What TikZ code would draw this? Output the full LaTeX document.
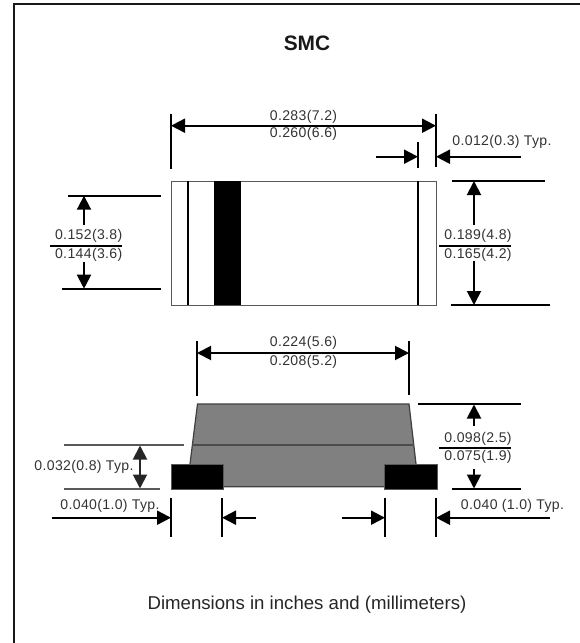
\documentclass[tikz,border=0pt]{standalone}
\usepackage{fontspec}
\setmainfont{Liberation Sans}
\newfontfamily\dimfont[LetterSpace=2.5]{Liberation Sans}
\usetikzlibrary{arrows.meta}
\tikzset{
    tip/.tip={Triangle[length=14*0.5692pt, width=14*0.5692pt]},
    dimline/.style={line width=1.1pt, black},
    thinline/.style={line width=0.6pt, black!65!white},
    dimarrow/.style={dimline, -tip},
    twoarrow/.style={dimline, tip-tip},
    dimtext/.style={inner sep=0pt, font=\dimfont\fontsize{8}{9.6}\selectfont, text=black!80},
    body/.style={draw=black!65, line width=0.7pt},
    pad/.style={fill=black, draw=black!65, line width=0.4pt},
}
\begin{document}
\begin{tikzpicture}[x=0.02cm, y=-0.02cm]
    \useasboundingbox (0,0) rectangle (580,643);
    % frame, only two sides
    \coordinate (FB) at (14,643);
    \coordinate (FC) at (14,4);
    \coordinate (FR) at (580,4);
    \draw [line width=1.4pt, black!90] (FB) -- (FC) -- (FR);

    \node [font=\bfseries\fontsize{11.9}{14}\selectfont, text=black!90] (title) at (307,43) {SMC};
    \node [font=\fontsize{10.6}{12}\selectfont, text=black!85] (foot) at (307,605) {Dimensions in inches and (millimeters)};

    % top view
    \node [body, minimum width=265*0.5692pt, minimum height=124.5*0.5692pt, inner sep=0pt, anchor=north west] (B) at (171,180.5) {};
    \node [fill=black, minimum width=27*0.5692pt, minimum height=124*0.5692pt, inner sep=0pt, anchor=north west] (band) at (214,180.7) {};
    \coordinate (L1a) at (188,180.5);
    \coordinate (L1b) at (188,305);
    \coordinate (L2a) at (418,180.5);
    \coordinate (L2b) at (418,305);
    \draw [dimline] (L1a) -- (L1b);
    \draw [dimline] (L2a) -- (L2b);

    % top view, width
    \coordinate (T1a) at (171,114);
    \coordinate (T1b) at (171,169);
    \coordinate (T2a) at (436,114);
    \coordinate (T2b) at (436,167);
    \coordinate (T3a) at (418,142);
    \coordinate (T3b) at (418,167.5);
    \coordinate (TA1) at (171,125.7);
    \coordinate (TA2) at (436,125.7);
    \coordinate (S1) at (376,156.7);
    \coordinate (S2) at (418,156.7);
    \coordinate (S3) at (521,156.7);
    \coordinate (S4) at (436,156.7);
    \draw [dimline] (T1a) -- (T1b);
    \draw [dimline] (T2a) -- (T2b);
    \draw [dimline] (T3a) -- (T3b);
    \draw [twoarrow] (TA1) -- (TA2);
    \draw [dimarrow] (S1) -- (S2);
    \draw [dimarrow] (S3) -- (S4);
    \node [dimtext] (t283) at (303.5,116.7) {0.283(7.2)};
    \node [dimtext] (t260) at (303.5,134.3) {0.260(6.6)};
    \node [dimtext] (t012) at (502,142) {0.012(0.3) Typ.};

    % top view, left height
    \coordinate (A1) at (68,195.7);
    \coordinate (A2) at (161,195.7);
    \coordinate (A3) at (62,288.7);
    \coordinate (A4) at (161,288.7);
    \coordinate (A5) at (84,224.7);
    \coordinate (A6) at (84,195.7);
    \coordinate (A7) at (84,262);
    \coordinate (A8) at (84,288.7);
    \coordinate (A9) at (50,245.7);
    \coordinate (A10) at (122,245.7);
    \draw [dimline] (A1) -- (A2);
    \draw [dimline] (A3) -- (A4);
    \draw [dimline] (A9) -- (A10);
    \draw [dimarrow] (A5) -- (A6);
    \draw [dimarrow] (A7) -- (A8);
    \node [dimtext] (t152) at (88.7,235.7) {0.152(3.8)};
    \node [dimtext] (t144) at (88.7,254.7) {0.144(3.6)};

    % top view, right height
    \coordinate (C1) at (452,180.7);
    \coordinate (C2) at (545,180.7);
    \coordinate (C3) at (451,305);
    \coordinate (C4) at (550,305);
    \coordinate (C5) at (474,224.7);
    \coordinate (C6) at (474,181);
    \coordinate (C7) at (474,261);
    \coordinate (C8) at (474,305);
    \coordinate (C9) at (439,245.7);
    \coordinate (C10) at (511,245.7);
    \draw [dimline] (C1) -- (C2);
    \draw [dimline] (C3) -- (C4);
    \draw [dimline] (C9) -- (C10);
    \draw [dimarrow] (C5) -- (C6);
    \draw [dimarrow] (C7) -- (C8);
    \node [dimtext] (t189) at (478,235.7) {0.189(4.8)};
    \node [dimtext] (t165) at (478,254.7) {0.165(4.2)};

    % side view
    \coordinate (G1) at (197.5,404);
    \coordinate (G2) at (409,404);
    \coordinate (G3) at (416,464);
    \coordinate (G4) at (416,486.7);
    \coordinate (G5) at (190,486.7);
    \coordinate (G6) at (190,464);
    \coordinate (M1) at (192,445);
    \coordinate (M2) at (414,445);
    \draw [body, draw=black!75, fill=black!50] (G1) -- (G2) -- (G3) -- (G4) -- (G5) -- (G6) -- cycle;
    \draw [line width=0.7pt, black!70] (M1) -- (M2);
    \node [pad, minimum width=52.5*0.5692pt, minimum height=25*0.5692pt, inner sep=0pt, anchor=north west] (PL) at (170.5,464) {};
    \node [pad, minimum width=52.5*0.5692pt, minimum height=25*0.5692pt, inner sep=0pt, anchor=north west] (PR) at (384,464) {};

    % side view, width
    \coordinate (D1a) at (197,341);
    \coordinate (D1b) at (197,396);
    \coordinate (D2a) at (409,341);
    \coordinate (D2b) at (409,395);
    \coordinate (DA1) at (197,353);
    \coordinate (DA2) at (409,353);
    \draw [dimline] (D1a) -- (D1b);
    \draw [dimline] (D2a) -- (D2b);
    \draw [twoarrow] (DA1) -- (DA2);
    \node [dimtext] (t224) at (303.5,342.7) {0.224(5.6)};
    \node [dimtext] (t208) at (303.5,361.7) {0.208(5.2)};

    % side view, left height
    \coordinate (E1) at (64,445);
    \coordinate (E2) at (184,445);
    \coordinate (E3) at (64,489);
    \coordinate (E4) at (160,489);
    \coordinate (E5) at (140,445.5);
    \coordinate (E6) at (140,488.5);
    \draw [thinline] (E1) -- (E2);
    \draw [thinline] (E3) -- (E4);
    \draw [twoarrow, black!85] (E5) -- (E6);
    \node [dimtext] (t032) at (84,466.7) {0.032(0.8) Typ.};

    % side view, right height
    \coordinate (H1) at (418,404);
    \coordinate (H2) at (521,404);
    \coordinate (H3) at (452,489);
    \coordinate (H4) at (521,489);
    \coordinate (H5) at (474,425.7);
    \coordinate (H6) at (474,404.5);
    \coordinate (H7) at (474,469);
    \coordinate (H8) at (474,488.5);
    \coordinate (H9) at (439,447.7);
    \coordinate (H10) at (511,447.7);
    \draw [dimline] (H1) -- (H2);
    \draw [dimline] (H3) -- (H4);
    \draw [dimline] (H9) -- (H10);
    \draw [dimarrow] (H5) -- (H6);
    \draw [dimarrow] (H7) -- (H8);
    \node [dimtext] (t098) at (478,438.5) {0.098(2.5)};
    \node [dimtext] (t075) at (478,457) {0.075(1.9)};

    % pad widths
    \foreach \i/\x in {1/171, 2/222, 3/385, 4/436} {
        \coordinate (K\i a) at (\x,498);
        \coordinate (K\i b) at (\x,537);
        \draw [dimline] (K\i a) -- (K\i b);
    }
    \coordinate (K5) at (52,517.7);
    \coordinate (K6) at (171,517.7);
    \coordinate (K7) at (256,517.7);
    \coordinate (K8) at (222,517.7);
    \coordinate (K9) at (342,517.7);
    \coordinate (K10) at (385,517.7);
    \coordinate (K11) at (550,517.7);
    \coordinate (K12) at (436,517.7);
    \draw [dimarrow] (K5) -- (K6);
    \draw [dimarrow] (K7) -- (K8);
    \draw [dimarrow] (K9) -- (K10);
    \draw [dimarrow] (K11) -- (K12);
    \node [dimtext] (t040a) at (110,505.7) {0.040(1.0) Typ.};
    \node [dimtext] (t040b) at (512.5,505.7) {0.040 (1.0) Typ.};
\end{tikzpicture}
\end{document}
